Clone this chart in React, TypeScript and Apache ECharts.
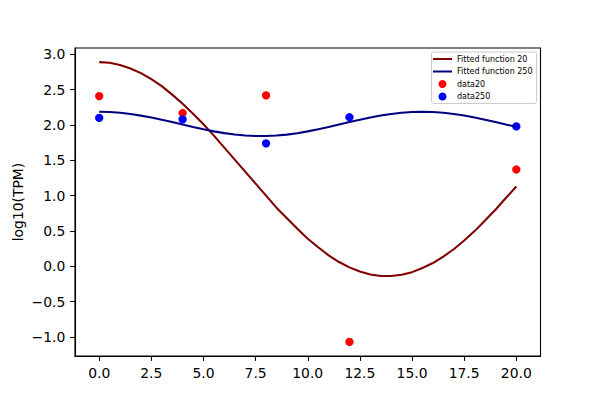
import { useEffect, useRef } from 'react'
import * as echarts from 'echarts'

// fitted curves at x = 0, 0.5, ..., 20
const fitX = [
  0, 0.5, 1, 1.5, 2, 2.5, 3, 3.5, 4, 4.5, 5, 5.5, 6, 6.5, 7, 7.5, 8, 8.5, 9, 9.5, 10,
  10.5, 11, 11.5, 12, 12.5, 13, 13.5, 14, 14.5, 15, 15.5, 16, 16.5, 17, 17.5, 18, 18.5, 19, 19.5, 20
]
const fit20 = [
  2.89, 2.88, 2.85, 2.80, 2.735, 2.65, 2.55, 2.43, 2.30, 2.16, 2.01, 1.85, 1.68, 1.51, 1.34, 1.17, 1.00,
  0.83, 0.68, 0.53, 0.39, 0.27, 0.155, 0.06, -0.015, -0.074, -0.115, -0.137, -0.137, -0.12, -0.083,
  -0.025, 0.046, 0.137, 0.241, 0.364, 0.498, 0.648, 0.801, 0.966, 1.13
]
const fit250 = [
  2.187, 2.183, 2.173, 2.156, 2.133, 2.106, 2.075, 2.041, 2.006, 1.972, 1.939, 1.910, 1.885, 1.865,
  1.851, 1.844, 1.844, 1.851, 1.864, 1.884, 1.910, 1.940, 1.971, 2.006, 2.041, 2.075, 2.106, 2.134,
  2.156, 2.173, 2.183, 2.187, 2.183, 2.173, 2.156, 2.134, 2.106, 2.075, 2.041, 2.006, 1.975
]

const sampleX = [0, 4, 8, 12, 20]
const data20 = [2.41, 2.17, 2.42, -1.07, 1.37]
const data250 = [2.10, 2.08, 1.74, 2.11, 1.98]

const xTicks = [0, 2.5, 5, 7.5, 10, 12.5, 15, 17.5, 20]
const yTicks = [-1, -0.5, 0, 0.5, 1, 1.5, 2, 2.5, 3]

const FONT = 'DejaVu Sans'
const LINE_ICON = 'path://M0,0H19V2H0Z'
const fmt = (v: number) => v.toFixed(1).replace('-', '\u2212')
const pairs = (xs: number[], ys: number[]) => xs.map((x, i) => [x, ys[i]])

export default function App() {
  const chartRef = useRef<HTMLDivElement>(null)

  useEffect(() => {
    if (!chartRef.current) return
    const chart = echarts.init(chartRef.current, null, { renderer: 'svg' })

    const axisCommon = {
      type: 'value' as const,
      axisLine: { show: true, onZero: false, lineStyle: { color: '#000', width: 1.1 } },
      axisTick: { show: true, length: 4.9, lineStyle: { color: '#000', width: 1.1 } },
      axisLabel: {
        margin: 9.7,
        color: '#000',
        fontSize: 13.9,
        fontFamily: FONT,
        formatter: fmt
      },
      splitLine: { show: false }
    }

    chart.setOption({
      animation: false,
      backgroundColor: '#fff',
      grid: {
        left: 75,
        right: 59.5,
        top: 48,
        bottom: 44,
        show: true,
        borderColor: '#000',
        borderWidth: 1.1
      },
      xAxis: {
        ...axisCommon,
        min: -1.16,
        max: 21.16,
        axisTick: { ...axisCommon.axisTick, customValues: xTicks },
        axisLabel: { ...axisCommon.axisLabel, customValues: xTicks }
      },
      yAxis: {
        ...axisCommon,
        min: -1.27,
        max: 3.09,
        name: 'log10(TPM)',
        nameLocation: 'middle',
        nameRotate: 90,
        nameGap: 50,
        nameMoveOverlap: false,
        nameTextStyle: { color: '#000', fontSize: 13.9, fontFamily: FONT },
        axisTick: { ...axisCommon.axisTick, customValues: yTicks },
        axisLabel: { ...axisCommon.axisLabel, customValues: yTicks }
      },
      legend: {
        orient: 'vertical',
        left: 431.5,
        top: 52,
        padding: [3, 4, 3, 1.5],
        itemGap: 4.5,
        itemWidth: 19,
        itemHeight: 8,
        backgroundColor: '#fff',
        borderColor: '#cccccc',
        borderWidth: 1,
        borderRadius: 2,
        textStyle: { color: '#000', fontSize: 8, fontFamily: FONT },
        data: [
          { name: 'Fitted function 20', icon: LINE_ICON },
          { name: 'Fitted function 250', icon: LINE_ICON },
          { name: 'data20', icon: 'circle' },
          { name: 'data250', icon: 'circle' }
        ]
      },
      series: [
        {
          name: 'Fitted function 20',
          type: 'line',
          data: pairs(fitX, fit20),
          showSymbol: false,
          symbol: 'none',
          lineStyle: { color: '#800000', width: 2.08 },
          itemStyle: { color: '#800000' }
        },
        {
          name: 'Fitted function 250',
          type: 'line',
          data: pairs(fitX, fit250),
          showSymbol: false,
          symbol: 'none',
          lineStyle: { color: '#000080', width: 2.08 },
          itemStyle: { color: '#000080' }
        },
        {
          name: 'data20',
          type: 'scatter',
          data: pairs(sampleX, data20),
          symbolSize: 8.3,
          itemStyle: { color: '#ff0000', opacity: 1 }
        },
        {
          name: 'data250',
          type: 'scatter',
          data: pairs(sampleX, data250),
          symbolSize: 8.3,
          itemStyle: { color: '#0000ff', opacity: 1 }
        }
      ]
    })

    return () => {
      chart.dispose()
    }
  }, [])

  return (
    <div
      ref={chartRef}
      style={{ position: 'fixed', left: 0, top: 0, width: 600, height: 400 }}
    />
  )
}
